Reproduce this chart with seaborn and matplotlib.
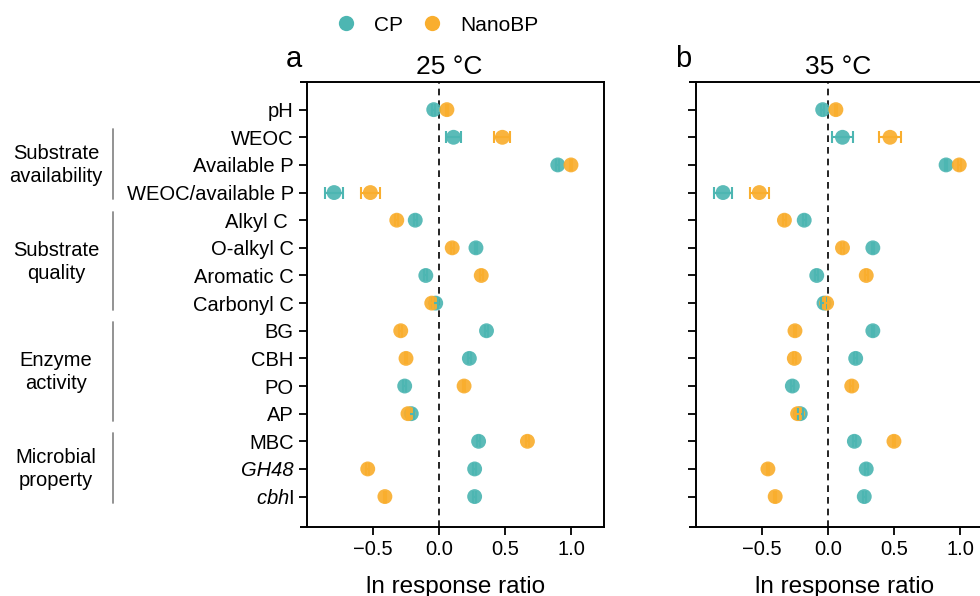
import numpy as np
import pandas as pd
import matplotlib
matplotlib.use("Agg")
import matplotlib.pyplot as plt
from matplotlib.lines import Line2D
import seaborn as sns

# ---- data ----
variables = ["pH", "WEOC", "Available P", "WEOC/available P",
             "Alkyl C ", "O-alkyl C", "Aromatic C", "Carbonyl C",
             "BG", "CBH", "PO", "AP",
             "MBC", "GH48", "$\\it{cbh}$I"]
italic_labels = ["GH48"]

cp_25 = [-0.04, 0.11, 0.90, -0.795, -0.18, 0.28, -0.10, -0.025,
         0.36, 0.23, -0.26, -0.21, 0.30, 0.27, 0.27]
cp_25_err = [0.01, 0.06, 0.01, 0.07, 0.01, 0.01, 0.01, 0.02,
             0.01, 0.01, 0.01, 0.02, 0.01, 0.01, 0.01]
nano_25 = [0.06, 0.48, 1.00, -0.52, -0.32, 0.10, 0.32, -0.055,
           -0.29, -0.25, 0.19, -0.235, 0.67, -0.54, -0.41]
nano_25_err = [0.01, 0.06, 0.01, 0.07, 0.01, 0.01, 0.01, 0.01,
               0.01, 0.01, 0.01, 0.01, 0.01, 0.01, 0.01]

cp_35 = [-0.04, 0.11, 0.895, -0.795, -0.18, 0.34, -0.085, -0.03,
         0.34, 0.21, -0.27, -0.21, 0.20, 0.29, 0.275]
cp_35_err = [0.01, 0.08, 0.01, 0.07, 0.01, 0.01, 0.01, 0.02,
             0.01, 0.01, 0.01, 0.02, 0.01, 0.01, 0.01]
nano_35 = [0.06, 0.47, 0.995, -0.52, -0.33, 0.11, 0.29, -0.01,
           -0.25, -0.255, 0.18, -0.23, 0.50, -0.455, -0.40]
nano_35_err = [0.01, 0.08, 0.01, 0.07, 0.01, 0.01, 0.01, 0.01,
               0.01, 0.01, 0.01, 0.02, 0.01, 0.01, 0.01]

groups = [("Substrate\navailability", 1, 3),
          ("Substrate\nquality", 4, 7),
          ("Enzyme\nactivity", 8, 11),
          ("Microbial\nproperty", 12, 14)]

treatments = ["CP", "NanoBP"]
colors = {"CP": "#4DB6B2", "NanoBP": "#F9AE2E"}

rows = []
for panel, (cp, cpe, nb, nbe) in {"25 °C": (cp_25, cp_25_err, nano_25, nano_25_err),
                                  "35 °C": (cp_35, cp_35_err, nano_35, nano_35_err)}.items():
    for i, var in enumerate(variables):
        rows.append(dict(panel=panel, var=var, pos=i, trt="CP", lnrr=cp[i], err=cpe[i]))
        rows.append(dict(panel=panel, var=var, pos=i, trt="NanoBP", lnrr=nb[i], err=nbe[i]))
df = pd.DataFrame(rows)

sns.set_style("ticks")
plt.rcParams["font.family"] = ["Liberation Sans", "DejaVu Sans"]
plt.rcParams["mathtext.fontset"] = "custom"
plt.rcParams["mathtext.it"] = "Liberation Sans:italic"
plt.rcParams["mathtext.rm"] = "Liberation Sans"
plt.rcParams["text.color"] = "black"
plt.rcParams["xtick.color"] = "black"
plt.rcParams["ytick.color"] = "black"
plt.rcParams["axes.labelcolor"] = "black"

fig = plt.figure(figsize=(9.8, 5.96), dpi=100)
ax_a = fig.add_axes([0.3133, 0.1158, 0.303, 0.7466])
ax_b = fig.add_axes([0.7102, 0.1158, 0.303, 0.7466])

for ax, panel, letter in [(ax_a, "25 °C", "a"), (ax_b, "35 °C", "b")]:
    sub = df[df["panel"] == panel]
    ax.axvline(0, color="black", ls=(0, (4, 3)), lw=1.2, zorder=1)
    for trt in treatments:
        d = sub[sub["trt"] == trt]
        sns.scatterplot(data=d, x="lnrr", y="pos", color=colors[trt], s=115,
                        alpha=0.92, edgecolor="none", ax=ax, legend=False, zorder=3)
        ax.errorbar(d["lnrr"], d["pos"], xerr=d["err"], fmt="none",
                    ecolor=colors[trt], elinewidth=1.5, capsize=4.5, capthick=1.5, zorder=4)
    ax.set_xlim(-1.0, 1.25)
    ax.set_ylim(15.1, -1.0)
    ax.set_xticks([-0.5, 0.0, 0.5, 1.0])
    ax.set_xticklabels(["\u22120.5", "0.0", "0.5", "1.0"])
    ax.set_yticks(range(len(variables)))
    ax.set_xlabel("ln response ratio", fontsize=17.5, labelpad=12)
    ax.set_ylabel("")
    ax.set_title(panel, fontsize=19, pad=6, x=0.48)
    ax.text(-0.07, 1.034, letter, transform=ax.transAxes, fontsize=21, ha="left", va="baseline")
    ax.tick_params(axis="both", labelsize=14.5, length=6, width=1.3, color="black")
    for sp in ax.spines.values():
        sp.set_linewidth(1.4)
        sp.set_color("black")
    # top/bottom frame lines poke out a little left of the y axis
    for yy in (0, 1):
        ax.plot([-0.024, 0], [yy, yy], color="black", lw=1.4, transform=ax.transAxes,
                clip_on=False, solid_capstyle="butt")

ax_a.set_yticklabels(variables, fontsize=14.5)
for t in ax_a.get_yticklabels():
    if t.get_text() in italic_labels:
        t.set_fontstyle("italic")
ax_b.set_yticklabels([])

# group labels and brackets on the left of panel a
trans = ax_a.get_yaxis_transform()
for label, first, last in groups:
    ax_a.plot([-0.653, -0.653], [first - 0.3, last + 0.25], color="#8a8a8a", lw=1.3,
              transform=trans, clip_on=False)
    ax_a.text(-0.845, (first + last) / 2, label, transform=trans, ha="center", va="center",
              fontsize=14.5, linespacing=1.25)

handles = [Line2D([], [], marker="o", ls="none", markersize=11, color=colors[t],
                  markeredgecolor="none", label=t) for t in treatments]
fig.legend(handles=handles, loc="center", bbox_to_anchor=(0.446, 0.958), ncol=2,
           frameon=False, fontsize=15, handlelength=1.0, handletextpad=0.85,
           columnspacing=0.9)

fig.savefig("out.png", dpi=100)
